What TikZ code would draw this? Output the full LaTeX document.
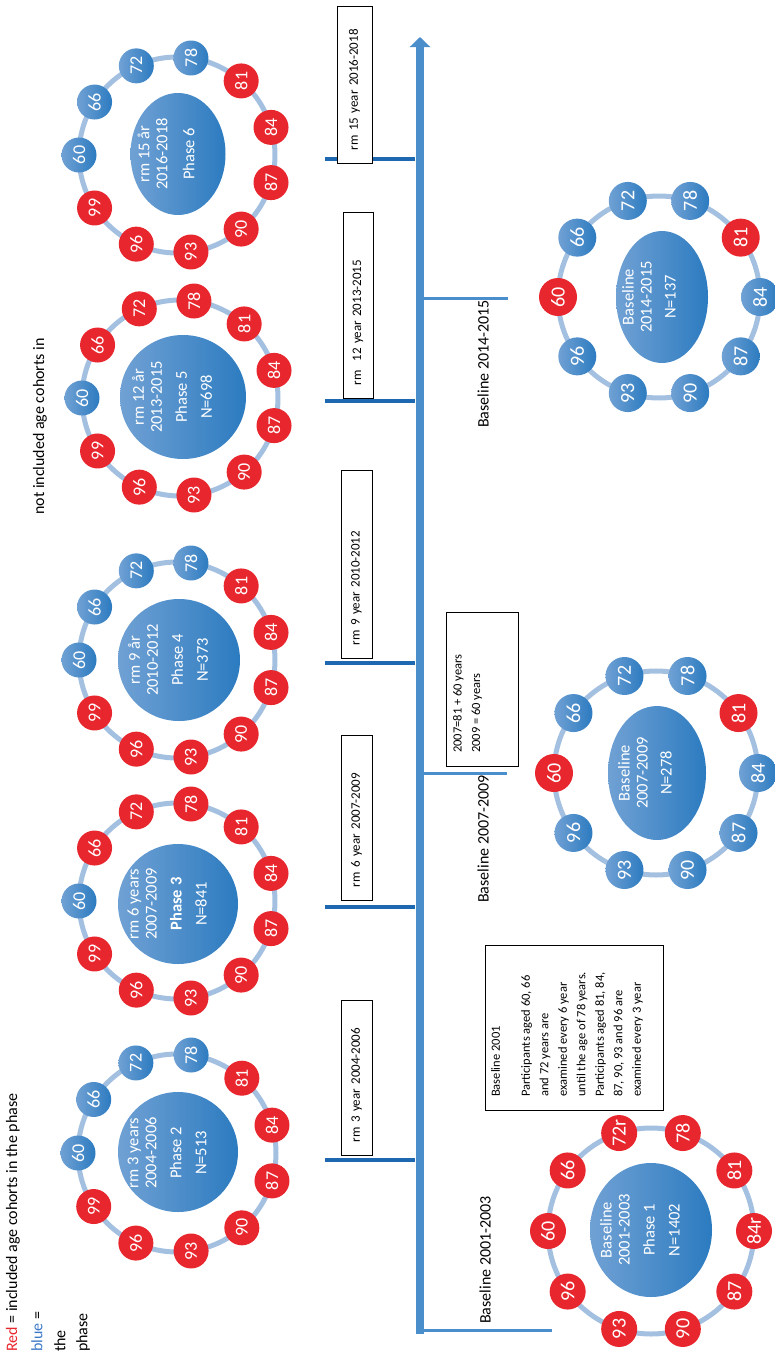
\documentclass[tikz,border=0pt]{standalone}
\usepackage{fontspec}
\setmainfont{Carlito}
\usetikzlibrary{shapes.geometric,arrows.meta}
\definecolor{redc}{RGB}{232,38,45}
\definecolor{bluel}{RGB}{112,161,212}
\definecolor{blued}{RGB}{44,123,192}
\definecolor{ringc}{RGB}{163,192,225}
\definecolor{axisc}{RGB}{74,143,203}
\definecolor{tickc}{RGB}{30,104,178}
\definecolor{legblue}{RGB}{60,120,200}
\newcommand\cohortring[7]{%
  \draw[ringline] #2 circle[radius=#3];
  \foreach \lab/\sty [count=\i from 0] in {#7} {
    \path #2 ++({180+\i*360/#4}:#3) node[\sty, minimum size=#5] (#1n\i) {};
    \node[numtxt, font=\fontsize{#6}{#6}\selectfont] (#1t\i) at (#1n\i) {\lab};
  }
}
\begin{document}
\begin{tikzpicture}[x=1pt,y=-1pt,
  ringline/.style={draw=ringc, line width=5pt},
  rdot/.style={circle, fill=redc, inner sep=0pt},
  bdot/.style={circle, left color=bluel, right color=blued, inner sep=0pt},
  numtxt/.style={rotate=90, text=white, inner sep=0pt},
  core/.style={ellipse, left color=bluel, right color=blued, inner sep=0pt},
  coretxt/.style={rotate=90, text=white, align=center, inner sep=0pt, font=\fontsize{16.5}{18}\selectfont},
  rmbox/.style={draw, line width=0.8pt, fill=white, rotate=90, inner xsep=13pt, inner ysep=0pt, align=left, font=\fontsize{13}{15}\selectfont},
  notebox/.style={draw, line width=0.8pt, fill=white, rotate=90, inner sep=0pt},
  note/.style={rotate=90, align=left, inner sep=0pt, anchor=north west, font=\fontsize{12.5}{18.5}\selectfont},
  tickL/.style={draw=tickc, line width=3.5pt},
  tickR/.style={draw=axisc, line width=3pt},
  lbl/.style={rotate=90, inner sep=0pt, font=\fontsize{16}{19}\selectfont}
]
\useasboundingbox (0,0) rectangle (774,1357);

% ---------- timeline ----------
\coordinate (ax0) at (420,1334);
\coordinate (ax1) at (420,37);
\draw[draw=axisc, line width=8.5pt, -{Triangle[width=20pt,length=10pt]}] (ax0) -- (ax1);
\foreach \yy/\nm in {1160/t3,907/t6,663/t9,401/t12,159/t15}{
  \coordinate (\nm a) at (325,\yy);
  \coordinate (\nm b) at (415,\yy);
  \draw[tickL] (\nm a) -- (\nm b);
}
\coordinate (r07a) at (424,773); \coordinate (r07b) at (507,773);
\coordinate (r14a) at (424,298); \coordinate (r14b) at (508,298);
\coordinate (r01a) at (420,1330); \coordinate (r01b) at (552,1330);
\draw[tickR] (r07a) -- (r07b);
\draw[tickR] (r14a) -- (r14b);
\draw[tickR] (r01a) -- (r01b);

% ---------- rm boxes ----------
\node[rmbox, text width=131pt, minimum height=35pt] (b15) at (354.5,84.5) {rm 15 year 2016-2018};
\node[rmbox, text width=160pt, minimum height=30pt] (b12) at (358,305) {rm\ \ 12 year 2013-2015};
\node[rmbox, text width=162pt, minimum height=31pt] (b9) at (356.5,564) {rm 9 year 2010-2012};
\node[rmbox, text width=139pt, minimum height=31pt] (b6) at (356.5,817.5) {rm 6 year 2007-2009};
\node[rmbox, text width=129pt, minimum height=31pt] (b3) at (356.5,1077.5) {rm 3 year 2004-2006};

% ---------- note boxes ----------
\node[notebox, minimum width=154pt, minimum height=72pt] (n07) at (482,689) {};
\node[note] (n07t) at (453,753) {2007=81 + 60 years\\2009 = 60 years};
\node[notebox, minimum width=165pt, minimum height=178pt] (n01) at (574,1027.5) {};
\node[note] (n01t) at (491,1097) {Baseline 2001\\[11.5pt]Participants aged 60, 66\\and 72 years are\\examined every 6 year\\until the age of 78 years.\\Participants aged 81, 84,\\87, 90, 93 and 96 are\\examined every 3 year};

% ---------- labels ----------
\node[lbl, anchor=east] (lb14) at (483,300) {Baseline 2014-2015};
\node[lbl, anchor=east] (lb07) at (483,775) {Baseline 2007-2009};
\node[lbl] (lb01) at (485,1260) {Baseline 2001-2003};
\node[lbl, anchor=west] (leg1) at (13,1352) {\textcolor{redc}{Red} = included age cohorts in the phase};
\node[lbl, anchor=west] (leg2) at (37,1352) {\textcolor{legblue}{blue} =};
\node[lbl, anchor=west] (leg3) at (60,1352) {the};
\node[lbl, anchor=west] (leg4) at (83,1352) {phase};
\node[lbl, anchor=west] (nic) at (40,515) {not included age cohorts in};

% ---------- rings: phases 2-6 ----------
\cohortring{pb}{(177,1153)}{99}{11}{35pt}{18}{60/bdot,66/bdot,72/bdot,78/bdot,81/rdot,84/rdot,87/rdot,90/rdot,93/rdot,96/rdot,99/rdot}
\node[core, minimum width=120pt, minimum height=120pt] (pbc) at (178,1152) {};
\node[coretxt] (pbx) at (167,1153) {rm 3 years\\2004-2006\\[7pt]Phase 2\\[7pt]N=513};

\cohortring{pc}{(177,901)}{98}{11}{35pt}{18}{60/bdot,66/rdot,72/rdot,78/rdot,81/rdot,84/rdot,87/rdot,90/rdot,93/rdot,96/rdot,99/rdot}
\node[core, minimum width=120pt, minimum height=120pt] (pcc) at (178,904) {};
\node[coretxt] (pcx) at (167,904) {rm 6 years\\2007-2009\\[7pt]\textbf{Phase 3}\\[7pt]N=841};

\cohortring{pd}{(177,660)}{98}{11}{35pt}{18}{60/bdot,66/bdot,72/bdot,78/bdot,81/rdot,84/rdot,87/rdot,90/rdot,93/rdot,96/rdot,99/rdot}
\node[core, minimum width=122pt, minimum height=122pt] (pdc) at (179,660) {};
\node[coretxt] (pdx) at (168,660) {rm 9 år\\2010-2012\\[7pt]Phase 4\\[7pt]N=373};

\cohortring{pe}{(180,398)}{98}{11}{35pt}{18}{60/bdot,66/rdot,72/rdot,78/rdot,81/rdot,84/rdot,87/rdot,90/rdot,93/rdot,96/rdot,99/rdot}
\node[core, minimum width=126pt, minimum height=124pt] (pec) at (183,397) {};
\node[coretxt] (pex) at (172,397) {rm 12 år\\2013-2015\\[7pt]Phase 5\\[7pt]N=698};

\cohortring{pf}{(177,155)}{98}{11}{35pt}{18}{60/bdot,66/bdot,72/bdot,78/bdot,81/rdot,84/rdot,87/rdot,90/rdot,93/rdot,96/rdot,99/rdot}
\node[core, minimum width=95pt, minimum height=122pt] (pfc) at (178,154) {};
\node[coretxt] (pfx) at (166,154) {rm 15 år\\2016-2018\\[9pt]Phase 6};

% ---------- baseline rings ----------
\cohortring{pa}{(651,1231)}{103}{10}{36pt}{20}{60/rdot,66/rdot,72r/rdot,78/rdot,81/rdot,84r/rdot,87/rdot,90/rdot,93/rdot,96/rdot}
\node[core, minimum width=122pt, minimum height=134pt] (pac) at (651,1230) {};
\node[coretxt] (pax) at (640,1230) {Baseline\\2001-2003\\[7pt]Phase 1\\[7pt]N=1402};

\cohortring{ba}{(656,773)}{102}{10}{38pt}{20}{60/rdot,66/bdot,72/bdot,78/bdot,81/rdot,84/bdot,87/bdot,90/bdot,93/bdot,96/bdot}
\node[core, minimum width=98pt, minimum height=134pt] (bac) at (657,773) {};
\node[coretxt] (bax) at (645,773) {Baseline\\2007-2009\\[6pt]N=278};

\cohortring{bb}{(659,297)}{101}{10}{38pt}{20}{60/rdot,66/bdot,72/bdot,78/bdot,81/rdot,84/bdot,87/bdot,90/bdot,93/bdot,96/bdot}
\node[core, minimum width=92pt, minimum height=132pt] (bbc) at (662,297) {};
\node[coretxt] (bbx) at (649,297) {Baseline\\2014-2015\\[6pt]N=137};
\end{tikzpicture}
\end{document}
